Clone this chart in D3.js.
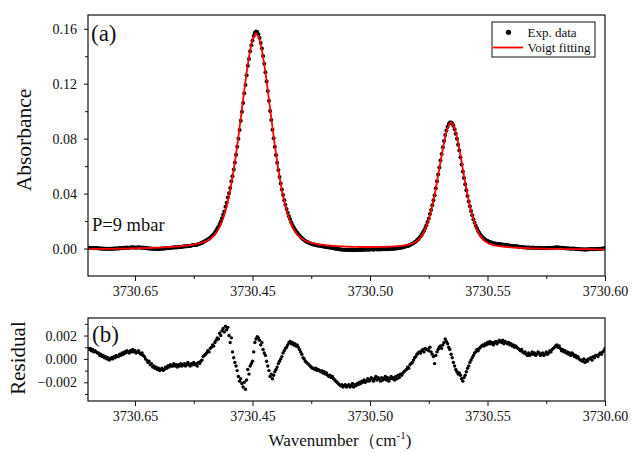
<!DOCTYPE html>
<html>
<head>
<meta charset="utf-8">
<script src="https://cdn.jsdelivr.net/npm/d3@7"></script>
<style>
  body { margin: 0; background: #fff; }
  text { font-family: "Liberation Serif", "Times New Roman", serif; fill: #111; }
</style>
</head>
<body>
<div id="chart"></div>
<script>
// scan grid of the spectrometer (cm-1)
const scanStart = 3730.38,
  scanStep = 0.0005;

// Voigt fit, absorbance in units of 1e-4
const fitAbs = [
  -4, -4, -4, -4, -4, -4, -3, -3, -3, -3, -3, -3, -3, -3, -3, -3, -2, -2, -2, -2,
  -2, -2, -2, -2, -1, -1, -1, -1, -1, -1, -1, 0, 0, 0, 0, 0, 0, 1, 1, 1,
  1, 1, 2, 2, 2, 2, 3, 3, 3, 3, 4, 4, 4, 4, 5, 5, 5, 6, 6, 6,
  7, 7, 8, 8, 8, 9, 9, 10, 10, 11, 11, 12, 12, 13, 14, 14, 15, 16, 16, 17,
  18, 19, 20, 21, 22, 23, 24, 25, 26, 28, 29, 30, 32, 34, 36, 38, 40, 42, 45, 48,
  52, 55, 60, 65, 70, 77, 84, 93, 103, 114, 127, 141, 157, 176, 197, 220, 247, 276, 308, 344,
  383, 426, 472, 521, 574, 630, 689, 751, 815, 881, 948, 1016, 1084, 1151, 1217, 1280, 1339, 1393, 1442, 1483,
  1516, 1541, 1556, 1562, 1557, 1542, 1517, 1484, 1443, 1394, 1340, 1281, 1218, 1152, 1085, 1017, 949, 882, 816, 752,
  690, 631, 575, 522, 473, 427, 384, 345, 309, 277, 248, 221, 198, 177, 158, 142, 128, 115, 104, 94,
  86, 78, 72, 66, 62, 57, 53, 50, 47, 44, 42, 40, 38, 36, 34, 32, 31, 30, 29, 28,
  27, 26, 25, 24, 23, 22, 21, 21, 20, 19, 19, 18, 17, 17, 16, 16, 15, 15, 15, 14,
  14, 14, 13, 13, 13, 12, 12, 12, 12, 12, 12, 11, 11, 11, 11, 11, 11, 11, 11, 11,
  11, 11, 11, 11, 11, 11, 11, 11, 12, 12, 12, 12, 12, 13, 13, 13, 14, 14, 14, 15,
  15, 16, 17, 17, 18, 19, 20, 20, 21, 23, 24, 26, 27, 29, 32, 34, 37, 40, 45, 50,
  56, 63, 72, 82, 94, 108, 124, 141, 162, 186, 212, 242, 275, 311, 350, 392, 436, 483, 531, 580,
  630, 679, 726, 769, 810, 845, 874, 896, 910, 914, 910, 896, 874, 845, 810, 769, 725, 678, 629, 579,
  530, 482, 435, 391, 349, 310, 274, 241, 211, 185, 160, 139, 121, 105, 91, 79, 69, 60, 53, 47,
  42, 37, 34, 30, 28, 25, 23, 22, 20, 19, 17, 16, 15, 14, 13, 12, 11, 11, 10, 9,
  8, 8, 7, 7, 6, 6, 5, 5, 4, 4, 4, 3, 3, 3, 2, 2, 2, 1, 1, 1,
  1, 0, 0, 0, 0, -1, -1, -1, -1, -1, -2, -2, -2, -2, -2, -2, -3, -3, -3, -3,
  -3, -3, -3, -3, -3, -4, -4, -4, -4, -4, -4, -4, -4, -4, -4, -5, -5, -5, -5, -5,
  -5, -5, -5, -5, -5, -5, -5, -5, -5, -5, -5, -6, -6, -6, -6, -6, -6, -6, -6, -6, -6
];

// residual (exp - fit), units of 1e-4
const residual = [
  9, 8, 9, 7, 8, 6, 7, 6, 5, 5, 3, 4, 2, 3, 1, 2, 0, 1, -1, 0,
  1, 0, 2, 1, 3, 2, 2, 4, 3, 5, 4, 6, 5, 7, 6, 5, 7, 6, 8, 6,
  7, 5, 6, 7, 5, 4, 5, 3, 2, 0, -1, -3, -2, -5, -4, -7, -6, -8, -7, -9,
  -8, -10, -9, -8, -10, -9, -7, -8, -6, -7, -5, -6, -6, -4, -6, -5, -7, -5, -6, -4,
  -6, -5, -4, -6, -5, -3, -5, -6, -4, -5, -3, -5, -4, -6, -3, -4, -2, -1, 2, 3,
  4, 5, 7, 6, 9, 10, 12, 11, 14, 16, 18, 17, 22, 20, 24, 26, 23, 28, 25, 27,
  20, 14, 18, 6, 1, -3, -6, -10, -15, -19, -17, -21, -24, -20, -26, -18, -9, -13, -6, -4,
  -2, 6, 14, 17, 19, 18, 16, 12, 14, 8, 5, 3, -2, -6, -10, -15, -13, -17, -14, -11,
  -9, -7, -4, -2, 0, 2, 5, 7, 9, 10, 12, 14, 15, 13, 14, 12, 13, 11, 12, 10,
  8, 6, 4, 1, 0, -2, -3, -4, -5, -6, -7, -8, -8, -9, -8, -10, -9, -10, -11, -10,
  -12, -11, -13, -12, -14, -15, -14, -16, -15, -17, -18, -19, -20, -21, -22, -23, -22, -24, -23, -22,
  -24, -23, -22, -24, -23, -21, -24, -22, -23, -21, -22, -20, -21, -19, -20, -18, -20, -19, -17, -19,
  -18, -16, -17, -19, -17, -15, -18, -16, -17, -19, -16, -18, -17, -15, -18, -16, -19, -17, -15, -17,
  -16, -18, -15, -17, -14, -16, -13, -14, -12, -11, -10, -9, -7, -8, -5, -4, -3, -1, 1, 2,
  4, 5, 6, 5, 7, 8, 6, 9, 8, 8, 7, 10, 6, 4, 2, -4, 3, 6, 8, 10,
  11, 9, 12, 14, 17, 15, 13, 10, 8, 4, 1, -3, -6, -9, -11, -13, -12, -14, -17, -19,
  -16, -14, -11, -8, -6, -3, -1, 1, 3, 5, 6, 8, 7, 9, 10, 11, 12, 11, 13, 12,
  14, 13, 15, 13, 14, 12, 14, 15, 13, 14, 16, 15, 14, 16, 13, 15, 14, 13, 14, 12,
  13, 11, 12, 10, 11, 10, 9, 8, 7, 8, 6, 5, 6, 4, 3, 5, 3, 4, 6, 4,
  5, 3, 4, 6, 5, 3, 4, 5, 3, 4, 6, 4, 5, 7, 6, 8, 9, 10, 11, 12,
  10, 11, 9, 7, 8, 6, 7, 5, 6, 4, 5, 3, 5, 4, 2, 3, 1, 2, 0, -1,
  -1, -2, 0, -3, -1, -2, 0, 0, 1, -1, 2, 1, 3, 3, 2, 4, 5, 4, 6, 7, 9
];

// ticks
const xTicks = [3730.40, 3730.45, 3730.50, 3730.55, 3730.60];
const xTickLabels = ["3730.65", "3730.45", "3730.50", "3730.55", "3730.60"];
const xMinor = [3730.425, 3730.475, 3730.525, 3730.575];
const absTicks = [0, 0.04, 0.08, 0.12, 0.16];
const absMinor = [0.02, 0.06, 0.10, 0.14];
const resTicks = [-0.002, 0, 0.002];
const resMinor = [-0.003, -0.001, 0.001, 0.003];

const width = 633,
  height = 453;
const left = 88,
  right = 605;
const serif = '"Liberation Serif", "Times New Roman", serif';

const svg = d3
  .select("#chart")
  .append("svg")
  .attr("width", width)
  .attr("height", height);

const n = Math.min(fitAbs.length, residual.length);
const data = d3.range(n).map((i) => {
  const fit = fitAbs[i] / 1e4;
  const res = residual[i] / 1e4;
  return { wn: scanStart + i * scanStep, fit: fit, res: res, exp: fit + res };
});

const x = d3.scaleLinear().domain([3730.38, 3730.60]).range([left, right]);
const yA = d3.scaleLinear().domain([-0.02, 0.17]).range([276, 15]);
const yR = d3.scaleLinear().domain([-0.0036, 0.0035]).range([401, 318]);

// clip areas for both panels
const defs = svg.append("defs");
defs.append("clipPath").attr("id", "clipA")
  .append("rect").attr("x", left).attr("y", 15).attr("width", right - left).attr("height", 261);
defs.append("clipPath").attr("id", "clipB")
  .append("rect").attr("x", left).attr("y", 318).attr("width", right - left).attr("height", 83);

function styleAxis(g) {
  g.attr("font-family", serif);
  g.select(".domain").remove();
  g.selectAll(".tick line").attr("stroke", "#111");
  g.selectAll(".tick text").style("font-size", "14px").style("font-family", serif).attr("fill", "#222");
}

function xAxes(yPos) {
  svg.append("g")
    .attr("transform", `translate(0,${yPos})`)
    .call(d3.axisBottom(x).tickValues(xTicks)
      .tickFormat((d, i) => xTickLabels[i]).tickSize(5).tickPadding(5))
    .call(styleAxis);
  svg.append("g")
    .attr("transform", `translate(0,${yPos})`)
    .call(d3.axisBottom(x).tickValues(xMinor).tickFormat("").tickSize(3))
    .call(styleAxis);
}

function yAxes(scale, major, minor, fmt) {
  svg.append("g")
    .attr("transform", `translate(${left},0)`)
    .call(d3.axisLeft(scale).tickValues(major).tickFormat(fmt).tickSize(4).tickPadding(7))
    .call(styleAxis);
  svg.append("g")
    .attr("transform", `translate(${left},0)`)
    .call(d3.axisLeft(scale).tickValues(minor).tickFormat("").tickSize(3))
    .call(styleAxis);
}

// ---- panel (a)
svg.append("g")
  .attr("clip-path", "url(#clipA)")
  .selectAll("circle")
  .data(data)
  .join("circle")
  .attr("cx", (d) => x(d.wn))
  .attr("cy", (d) => yA(d.exp))
  .attr("r", 2)
  .attr("fill", "#000");

svg.append("path")
  .datum(data)
  .attr("clip-path", "url(#clipA)")
  .attr("fill", "none")
  .attr("stroke", "#f00")
  .attr("stroke-width", 1.8)
  .attr("d", d3.line().x((d) => x(d.wn)).y((d) => yA(d.fit)).curve(d3.curveMonotoneX));

svg.append("rect")
  .attr("x", left).attr("y", 15).attr("width", right - left).attr("height", 261)
  .attr("fill", "none").attr("stroke", "#111").attr("stroke-width", 1.2);

xAxes(276);
yAxes(yA, absTicks, absMinor, d3.format(".2f"));

svg.append("text").attr("x", 91).attr("y", 41).style("font-size", "23px").text("(a)");
svg.append("text").attr("x", 92).attr("y", 231).style("font-size", "18.5px").text("P=9 mbar");

svg.append("text")
  .attr("transform", "translate(31,140) rotate(-90)")
  .attr("text-anchor", "middle")
  .style("font-size", "21.5px")
  .text("Absorbance");

// legend
const lg = svg.append("g");
lg.append("rect")
  .attr("x", 492).attr("y", 22).attr("width", 103).attr("height", 35)
  .attr("fill", "#fff").attr("stroke", "#111").attr("stroke-width", 1);
lg.append("circle").attr("cx", 508.5).attr("cy", 32.3).attr("r", 2.6).attr("fill", "#000");
lg.append("text").attr("x", 527.5).attr("y", 36.5).style("font-size", "13px").text("Exp. data");
lg.append("line")
  .attr("x1", 493).attr("x2", 523).attr("y1", 47.5).attr("y2", 47.5)
  .attr("stroke", "#f00").attr("stroke-width", 1.8);
lg.append("text").attr("x", 527.5).attr("y", 51.8).style("font-size", "13px").text("Voigt fitting");

// ---- panel (b)
svg.append("g")
  .attr("clip-path", "url(#clipB)")
  .selectAll("circle")
  .data(data)
  .join("circle")
  .attr("cx", (d) => x(d.wn))
  .attr("cy", (d) => yR(d.res))
  .attr("r", 1.7)
  .attr("fill", "#000");

svg.append("rect")
  .attr("x", left).attr("y", 318).attr("width", right - left).attr("height", 83)
  .attr("fill", "none").attr("stroke", "#111").attr("stroke-width", 1.2);

xAxes(401);
yAxes(yR, resTicks, resMinor, d3.format(".3f"));

svg.append("text").attr("x", 92).attr("y", 342).style("font-size", "23px").text("(b)");

svg.append("text")
  .attr("transform", "translate(25,358) rotate(-90)")
  .attr("text-anchor", "middle")
  .style("font-size", "21px")
  .text("Residual");

const xt = svg.append("text")
  .attr("x", 340).attr("y", 446)
  .attr("text-anchor", "middle")
  .style("font-size", "17px");
xt.append("tspan").text("Wavenumber（cm");
xt.append("tspan").attr("dy", -7).style("font-size", "11px").text("-1");
xt.append("tspan").attr("dy", 7).text(")");
</script>
</body>
</html>
